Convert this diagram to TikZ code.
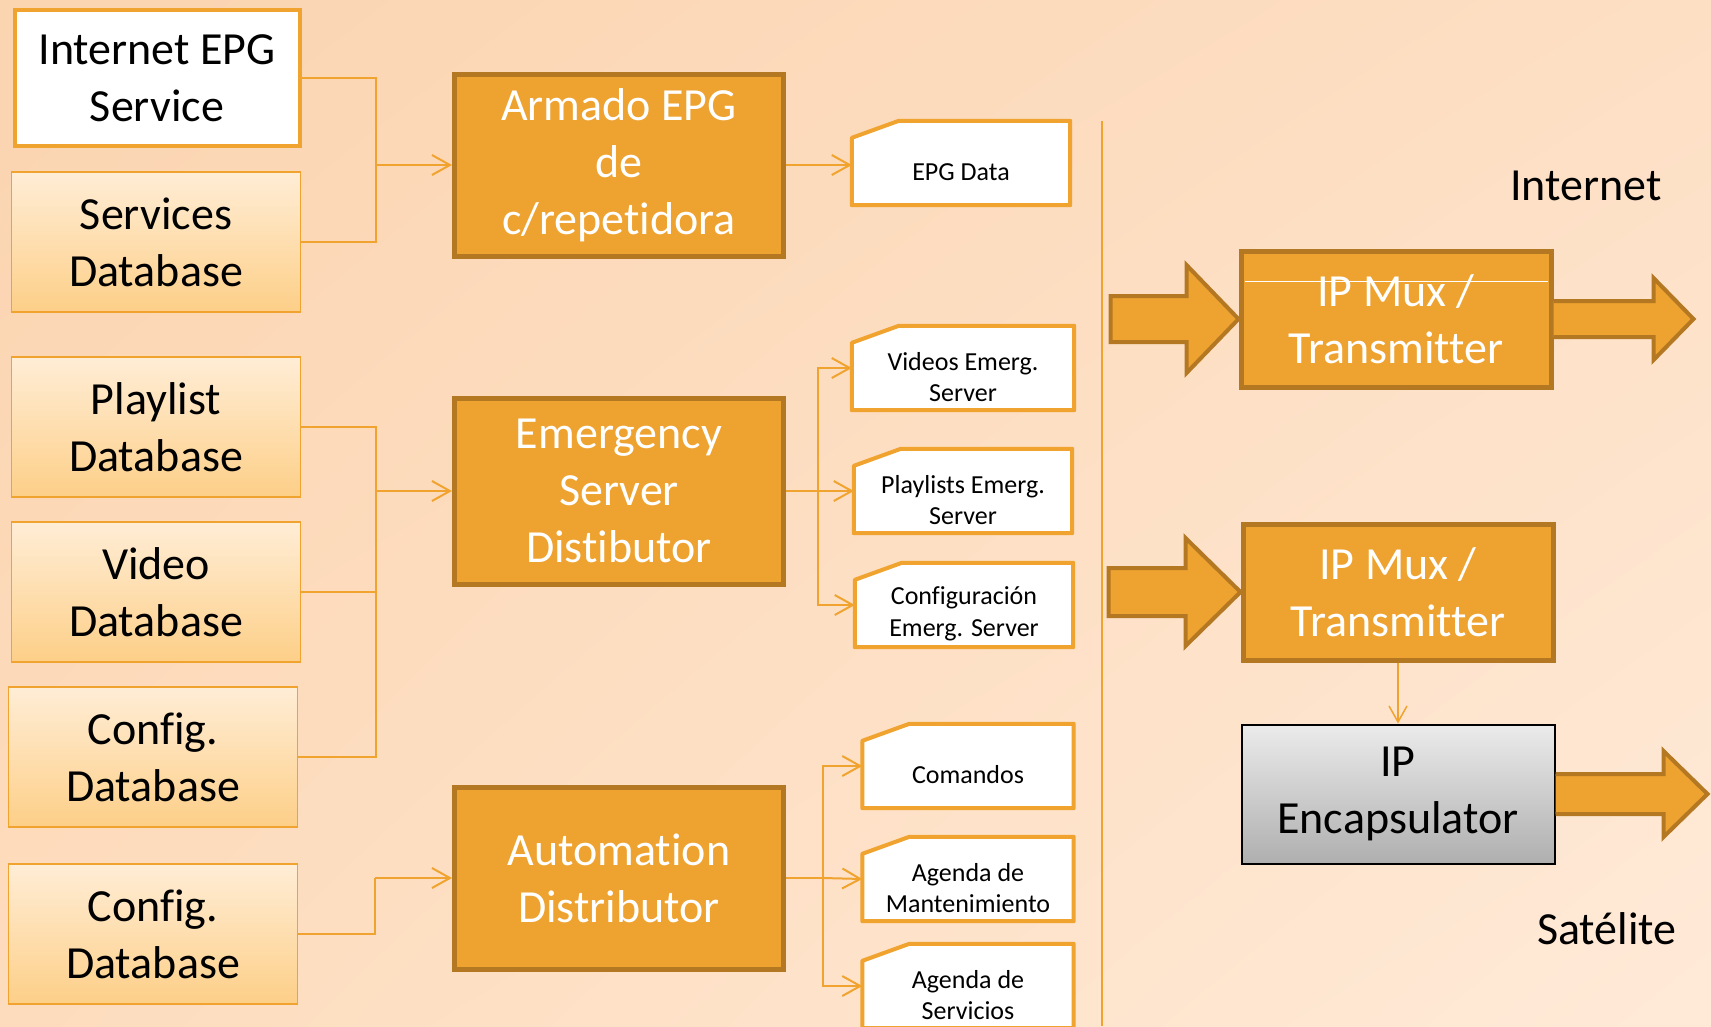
\documentclass[tikz,border=0pt]{standalone}
\usepackage{fontspec}
\setmainfont{Carlito}[RawFeature={-liga;-clig;-dlig;-calt}]
\usepackage{tikz}
\usetikzlibrary{positioning,calc,arrows.meta,shadings}
\definecolor{FlowOrange}{HTML}{F0A32F}
\definecolor{FlowFill}{HTML}{EEA22F}
\definecolor{FlowEdge}{HTML}{B47823}
\definecolor{FlowDbTop}{HTML}{FFEDD6}
\definecolor{FlowDbBot}{HTML}{FDCF88}
\definecolor{FlowGrayTop}{HTML}{EBEBEB}
\definecolor{FlowGrayBot}{HTML}{AFAFAF}
\definecolor{FlowBgUL}{HTML}{FBD4B0}
\definecolor{FlowBgUR}{HTML}{FDDFC4}
\definecolor{FlowBgLL}{HTML}{FDDCBD}
\definecolor{FlowBgLR}{HTML}{FFEAD8}
\newcommand{\boxfont}{\fontsize{46}{57}\selectfont}
\newcommand{\docfont}{\fontsize{26}{31.6}\selectfont}
\pgfdeclarelayer{bg}
\pgfdeclarelayer{docs}
\pgfsetlayers{bg,docs,main}
\newcommand{\docshape}[1]{%
  \begin{pgfonlayer}{docs}
    \filldraw[docline] (#1.south west) -- ([yshift=-17pt]#1.north west) -- ([xshift=47pt]#1.north west) -- (#1.north east) -- (#1.south east) -- cycle;
  \end{pgfonlayer}}

\begin{document}
\begin{tikzpicture}[x=1pt,y=-1pt,
    srcbox/.style={draw=FlowOrange, line width=1.5pt, top color=FlowDbTop, bottom color=FlowDbBot,
      minimum width=289pt, minimum height=140pt, inner sep=0pt, align=center, font=\boxfont},
    webbox/.style={draw=FlowOrange, line width=4pt, fill=white,
      minimum width=285pt, minimum height=136pt, inner sep=0pt, align=center, font=\boxfont},
    procbox/.style={draw=FlowEdge, fill=FlowFill, line width=5pt, text=white,
      minimum width=329pt, minimum height=182pt, inner sep=0pt, align=center, font=\boxfont},
    muxbox/.style={procbox, minimum width=310pt, minimum height=136pt},
    encbox/.style={draw=black, line width=2pt, top color=FlowGrayTop, bottom color=FlowGrayBot,
      minimum width=313pt, minimum height=139pt, inner sep=0pt, align=center, font=\boxfont},
    docbox/.style={minimum width=218pt, minimum height=84pt, inner sep=0pt},
    doclbl/.style={font=\docfont, align=center, yshift=-9pt},
    docline/.style={draw=FlowOrange, fill=white, line width=4pt, line join=round},
    conn/.style={draw=FlowOrange, line width=2pt},
    arr/.style={conn, -{Straight Barb[length=18pt,width=20pt]}},
    bigarrow/.style={fill=FlowFill, draw=FlowEdge, line width=4pt},
    sidelbl/.style={font=\boxfont, anchor=east}]

  \useasboundingbox (0,0) rectangle (1711,1026);
  \begin{pgfonlayer}{bg}
    \shade[upper left=FlowBgUL, upper right=FlowBgUR, lower left=FlowBgLL, lower right=FlowBgLR]
      (0,0) rectangle (1711,1026);
  \end{pgfonlayer}

  % Sources
  \node[webbox] (inetepg) at (157,78) {Internet EPG\\Service};
  \node[srcbox] (servdb) at (156,242) {Services\\Database};
  \node[srcbox] (playdb) at (156,427) {Playlist\\Database};
  \node[srcbox] (videodb) at (156,592) {Video\\Database};
  \node[srcbox] (configdba) at (153,757) {Config.\\Database};
  \node[srcbox] (configdbb) at (153,934) {Config.\\Database};

  % Distributors
  \node[procbox] (armado) at (619,165) {Armado EPG\\de\\c/repetidora};
  \node[procbox, minimum height=186pt] (emerg) at (619,491) {Emergency\\Server\\Distibutor};
  \node[procbox] (autom) at (619,878) {Automation\\Distributor};

  % Outputs
  \node[docbox, label={[doclbl]center:EPG Data}] (epgdata) at (961,163) {};
  \node[docbox, minimum width=222pt, label={[doclbl]center:Videos Emerg.\\Server}] (videos) at (963,368) {};
  \node[docbox, label={[doclbl]center:Playlists Emerg.\\Server}] (playlists) at (963,491) {};
  \node[docbox, label={[doclbl]center:Configuración\\Emerg. Server}] (configemerg) at (964,605) {};
  \node[docbox, minimum width=211pt, label={[doclbl]center:Comandos}] (comandos) at (968,766) {};
  \node[docbox, minimum width=211pt, label={[doclbl]center:Agenda de\\Mantenimiento}] (agendamant) at (968,879) {};
  \node[docbox, minimum width=211pt, label={[doclbl]center:Agenda de\\Servicios}] (agendaserv) at (968,986) {};
  \docshape{epgdata}
  \docshape{videos}
  \docshape{playlists}
  \docshape{configemerg}
  \docshape{comandos}
  \docshape{agendamant}
  \docshape{agendaserv}

  % Inputs to distributors
  \coordinate (epgjoin) at (376,165);
  \draw[conn] (inetepg.east) -| (epgjoin);
  \draw[conn] (servdb.east) -| (epgjoin);
  \draw[arr] (epgjoin) -- (armado.west);
  \coordinate (emjoin) at (376,491);
  \draw[conn] (playdb.east) -| (emjoin);
  \draw[conn] (videodb.east) -| (emjoin);
  \draw[conn] (configdba.east) -| (emjoin);
  \draw[arr] (emjoin) -- (emerg.west);
  \coordinate (aujoin) at (375,878);
  \draw[conn] (configdbb.east) -| (aujoin);
  \draw[arr] (aujoin) -- (autom.west);

  % Distributors to outputs
  \draw[arr] (armado.east) -- (armado.east -| epgdata.west);
  \coordinate (emsplit) at (818,491);
  \draw[conn] (emerg.east) -- (emsplit);
  \draw[arr] (emsplit) |- (videos.west);
  \draw[arr] (emsplit) -- (playlists.west);
  \draw[arr] (emsplit) |- (configemerg.west);
  \coordinate (ausplit) at (823,878);
  \draw[conn] (autom.east) -- (ausplit);
  \draw[arr] (ausplit) |- (comandos.west);
  \draw[arr] (ausplit) -- (agendamant.west);
  \draw[arr] (ausplit) |- (agendaserv.west);

  % Divider
  \draw[conn] (1102,121) -- (1102,1026);

  % Transmission
  \node[sidelbl] (inettxt) at (1665,186) {Internet};
  \node[sidelbl] (sattxt) at (1680,929) {Satélite};
  \node[muxbox] (ipmuxa) at (1396,319) {IP Mux /\\Transmitter};
  \draw[white, line width=0.8pt] ([xshift=6pt,yshift=-33pt]ipmuxa.north west) -- ([xshift=-6pt,yshift=-33pt]ipmuxa.north east);
  \node[muxbox] (ipmuxb) at (1398,592) {IP Mux /\\Transmitter};
  \node[encbox] (ipenc) at (1398,794) {IP\\Encapsulator};
  \draw[conn, -{Straight Barb[length=16pt,width=18pt]}, line width=1.5pt] (ipmuxb.south) -- (ipenc.north);

  % Block arrows
  \filldraw[bigarrow] (ipmuxa.west) -- ++(-52,-54) -- ++(0,31) -- ++(-76,0) -- ++(0,46) -- ++(76,0) -- ++(0,31) -- cycle;
  \filldraw[bigarrow] ([yshift=18pt]ipmuxa.east) -- ++(100,0) -- ++(0,-23) -- ++(40,41) -- ++(-40,41) -- ++(0,-23) -- ++(-100,0);
  \filldraw[bigarrow] (ipmuxb.west) -- ++(-55,-54) -- ++(0,30) -- ++(-77,0) -- ++(0,48) -- ++(77,0) -- ++(0,30) -- cycle;
  \filldraw[bigarrow] ([yshift=20pt]ipenc.east) -- ++(108,0) -- ++(0,-23) -- ++(44,43) -- ++(-44,43) -- ++(0,-23) -- ++(-108,0);
\end{tikzpicture}
\end{document}
